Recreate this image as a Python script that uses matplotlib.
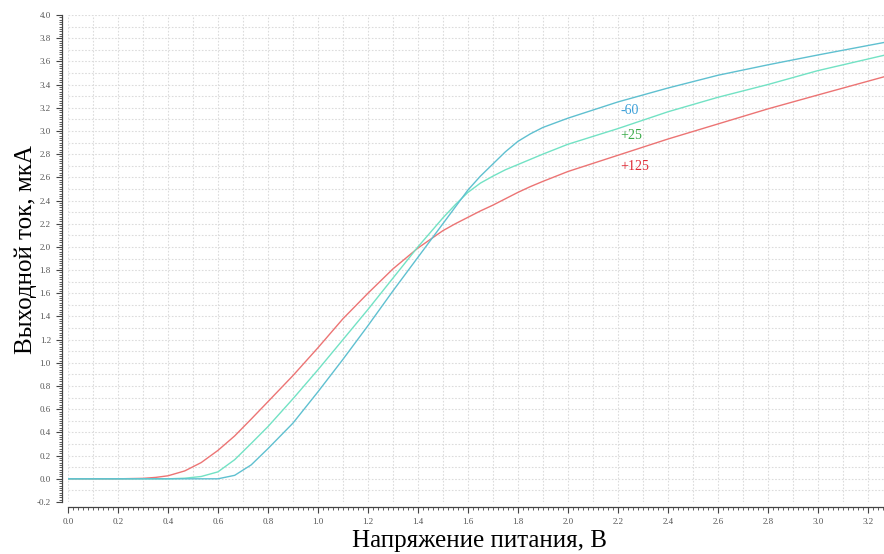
import numpy as np
import matplotlib
matplotlib.use("Agg")
import matplotlib.pyplot as plt
from matplotlib.ticker import MultipleLocator, FormatStrFormatter

# supply voltage, V
voltage = [0.0, 0.1, 0.2, 0.3, 0.35, 0.4, 0.467, 0.533, 0.6, 0.667, 0.733, 0.8,
           0.9, 1.0, 1.1, 1.2, 1.3, 1.4, 1.5, 1.55, 1.6, 1.65, 1.7, 1.75, 1.8,
           1.85, 1.9, 2.0, 2.2, 2.4, 2.6, 2.8, 3.0, 3.27]

# output current, uA
cur_m60 = [0, 0, 0, 0, 0, 0, 0, 0, 0.0, 0.03, 0.12, 0.26,
           0.48, 0.75, 1.03, 1.32, 1.62, 1.91, 2.2, 2.345, 2.49, 2.61, 2.715, 2.82, 2.91,
           2.975, 3.03, 3.11, 3.25, 3.37, 3.48, 3.57, 3.655, 3.765]
cur_p25 = [0, 0, 0, 0, 0, 0, 0.005, 0.02, 0.06, 0.165, 0.305, 0.45,
           0.69, 0.94, 1.2, 1.46, 1.73, 2.0, 2.25, 2.365, 2.47, 2.55, 2.61, 2.665, 2.71,
           2.755, 2.80, 2.885, 3.02, 3.165, 3.29, 3.40, 3.52, 3.655]
cur_p125 = [0, 0, 0, 0.004, 0.012, 0.026, 0.068, 0.14, 0.245, 0.37, 0.515, 0.665,
            0.89, 1.13, 1.38, 1.60, 1.81, 1.99, 2.14, 2.2, 2.255, 2.31, 2.36, 2.415, 2.47,
            2.52, 2.565, 2.65, 2.79, 2.93, 3.06, 3.19, 3.31, 3.47]

labels = ["-60", "+25", "+125"]
label_x = 2.21
label_y = [3.18, 2.96, 2.69]

plt.rcParams['font.family'] = ['Liberation Serif', 'DejaVu Serif']

fig = plt.figure(figsize=(8.84, 5.54), dpi=100)
ax = fig.add_axes([68 / 884, 1 - 502 / 554, 1 - 68 / 884, (502 - 15) / 554])

# grid every 0.1
for gx in np.arange(0, 3.3, 0.1):
    ax.axvline(gx, color='#dcdcdc', lw=0.8, ls=(0, (1.5, 1.5)), zorder=0)
for gy in np.arange(-0.2, 4.01, 0.1):
    ax.axhline(gy, color='#dcdcdc', lw=0.8, ls=(0, (1.5, 1.5)), zorder=0)

ax.plot(voltage, cur_p125, color='#ec7474', lw=1.0)
ax.plot(voltage, cur_p25, color='#72e2c4', lw=1.0)
ax.plot(voltage, cur_m60, color='#5fc0d0', lw=1.0)

label_colors = ['#3a9fd8', '#3aaa48', '#e02a36']
for t, y, c in zip(labels, label_y, label_colors):
    ax.text(label_x, y, t, color=c, fontsize=10, ha='left', va='center')

ax.set_xlim(0, 3.265)
ax.set_ylim(-0.2, 4.0)

ax.xaxis.set_major_locator(MultipleLocator(0.2))
ax.xaxis.set_minor_locator(MultipleLocator(0.02))
ax.yaxis.set_major_locator(MultipleLocator(0.2))
ax.yaxis.set_minor_locator(MultipleLocator(0.02))
ax.xaxis.set_major_formatter(FormatStrFormatter('%.1f'))
ax.yaxis.set_major_formatter(FormatStrFormatter('%.1f'))

for s in ['top', 'right']:
    ax.spines[s].set_visible(False)
ax.spines['left'].set_position(('outward', 4.3))
ax.spines['bottom'].set_position(('outward', 3.6))
for s in ['left', 'bottom']:
    ax.spines[s].set_color('#444444')
    ax.spines[s].set_linewidth(0.9)

ax.tick_params(which='major', direction='out', length=4, width=0.8, color='#444444',
               labelsize=6.5, labelcolor='#555555', pad=4)
ax.tick_params(which='minor', direction='out', length=2.2, width=0.6, color='#444444')

fig.text(480 / 884, 1 - 541 / 554, 'Напряжение питания, В', fontsize=18,
         ha='center', va='center')
fig.text(26 / 884, 1 - 250 / 554, 'Выходной ток, мкА', fontsize=18,
         ha='center', va='center', rotation=90)

fig.savefig('out.png', dpi=100)
